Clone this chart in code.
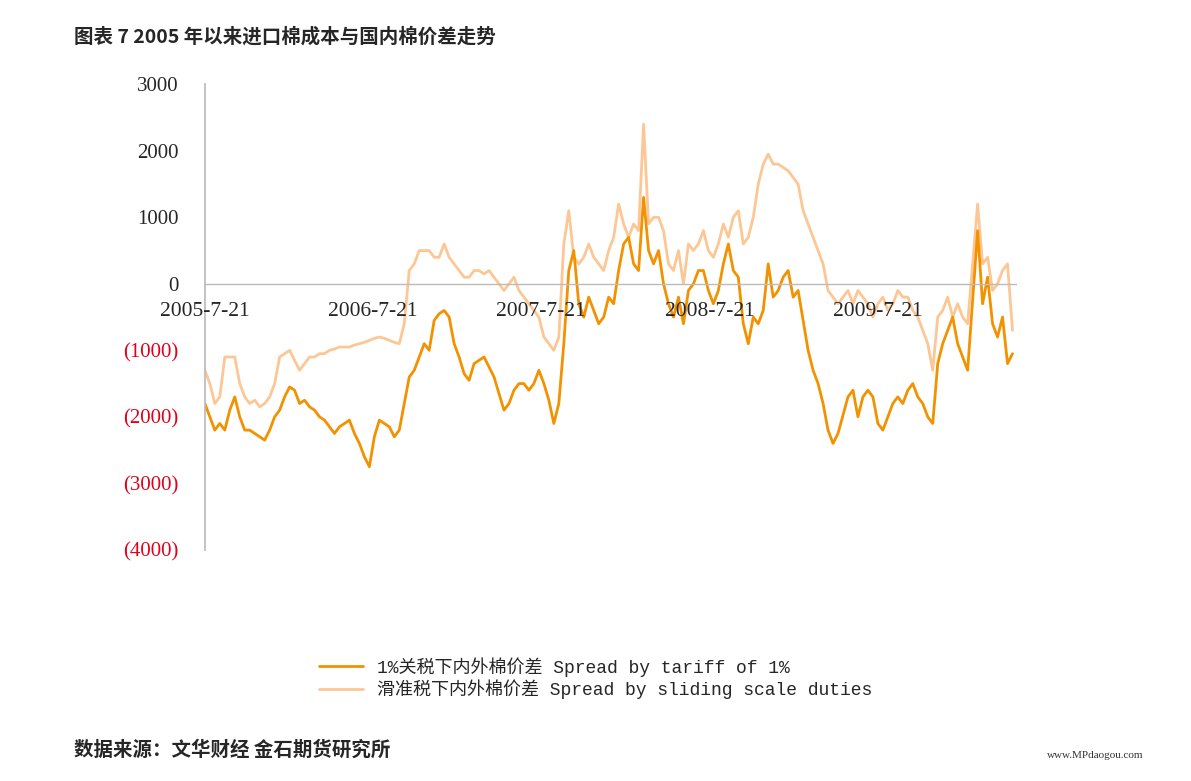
import numpy as np, pandas as pd, matplotlib
matplotlib.use("Agg")
import matplotlib.pyplot as plt, seaborn as sns

sns.set_theme(style="white")
plt.rcParams['font.family'] = ['Liberation Serif', 'Noto Sans CJK SC']

nan = np.nan
spread_1pct = [-1800,-2000,-2200,-2100,-2200,-1900,-1700,-2000,-2200,-2200,-2250,-2300,-2350,-2200,-2000,-1900,-1700,-1550,-1600,-1800,
 -1750,-1850,-1900,-2000,-2050,-2150,-2250,-2150,-2100,-2050,-2250,-2400,-2600,-2750,-2300,-2050,-2100,-2150,-2300,-2200,
 -1800,-1400,-1300,-1100,-900,-1000,-550,-450,-400,-500,-900,-1100,-1350,-1450,-1200,-1150,-1100,-1250,-1400,-1650,
 -1900,-1800,-1600,-1500,-1500,-1600,-1500,-1300,-1500,-1750,-2100,-1800,-900,200,500,-300,-500,-200,-400,-600,
 -500,-200,-300,200,600,700,300,200,1300,500,300,500,0,-300,-500,-200,-600,-100,0,200,
 200,-100,-300,-100,300,600,200,100,-600,-900,-500,-600,-400,300,-200,-100,100,200,-200,-100,
 nan,-1000,-1300,-1500,-1800,-2200,-2400,-2250,nan,-1700,-1600,-2000,-1700,-1600,-1700,-2100,-2200,-2000,-1800,-1700,
 -1800,-1600,-1500,-1700,-1800,-2000,-2100,-1200,-900,-700,-500,-900,-1100,-1300,nan,800,-300,100,-600,-800,
 -500,-1200,-1050]
spread_sliding = [-1300,-1500,-1800,-1700,-1100,-1100,-1100,-1500,-1700,-1800,-1750,-1850,-1800,-1700,-1500,-1100,-1050,-1000,-1150,-1300,
 -1200,-1100,-1100,-1050,-1050,-1000,-980,-950,-950,-950,-920,-900,-880,-850,-820,-800,-820,-850,-880,-900,
 -600,200,300,500,500,500,400,400,600,400,300,200,100,100,200,200,150,200,100,0,
 -100,0,100,-100,-200,-300,-400,-500,-800,-900,-1000,-800,600,1100,400,300,400,600,400,300,
 200,500,700,1200,900,700,900,800,2400,900,1000,1000,800,300,200,500,0,600,500,600,
 800,500,400,600,900,700,1000,1100,600,700,1000,1500,1800,1950,1800,1800,1750,1700,1600,1500,
 1100,900,700,500,300,-100,-200,-300,-200,-100,-300,-100,-200,-300,-500,-300,-200,-400,-300,-100,
 -200,-200,-400,-500,-700,-900,-1300,-500,-400,-200,-500,-300,-500,-600,nan,1200,300,400,-100,0,
 200,300,-700]
n = min(len(spread_1pct), len(spread_sliding))
spread_1pct = spread_1pct[:n]; spread_sliding = spread_sliding[:n]
dates = pd.date_range("2005-07-21", "2010-05-10", periods=n)
tick_dates = pd.to_datetime(["2005-07-21","2006-07-21","2007-07-21","2008-07-21","2009-07-21"])
tick_labels = ["2005-7-21","2006-7-21","2007-7-21","2008-7-21","2009-7-21"]
y_ticks = [3000,2000,1000,0,-1000,-2000,-3000,-4000]
lab1 = "1%关税下内外棉价差 Spread by tariff of 1%"
lab2 = "滑准税下内外棉价差 Spread by sliding scale duties"

df = pd.DataFrame({"date": dates, "a": spread_1pct, "b": spread_sliding})
fig = plt.figure(figsize=(11.91, 7.81), dpi=100)
ax = fig.add_axes([0.172, 0.296, 0.682, 0.596])
sns.lineplot(data=df, x="date", y="b", ax=ax, color="#FCC795", lw=2.0, label=lab2, legend=False)
sns.lineplot(data=df, x="date", y="a", ax=ax, color="#F39200", lw=2.0, label=lab1, legend=False)
ax.set_ylim(-4000, 3000)
ax.set_xlim(pd.Timestamp("2005-07-21"), pd.Timestamp("2010-05-20"))
ax.set_xlabel(""); ax.set_ylabel("")
for s in ["top", "right", "bottom"]:
    ax.spines[s].set_visible(False)
ax.spines["left"].set_color("#BBBBBB")
ax.axhline(0, color="#BBBBBB", lw=1)
ax.set_xticks([])
for d, t in zip(tick_dates, tick_labels):
    ax.text(d, -410, t, ha="center", va="center", fontsize=15.5, family="Liberation Serif")
ax.set_yticks(y_ticks)
ax.set_yticklabels([f"{v}" if v >= 0 else f"({-v})" for v in y_ticks], fontsize=15, family="Liberation Serif")
for lbl, v in zip(ax.get_yticklabels(), y_ticks):
    if v < 0: lbl.set_color("#E0001B")
ax.tick_params(axis="y", length=0, pad=19)

h, l = ax.get_legend_handles_labels()
fig.legend(h[::-1], l[::-1], loc="upper left", bbox_to_anchor=(0.262, 0.168), frameon=False,
           prop={"family": ["Liberation Mono", "Noto Sans CJK SC"], "size": 13},
           handlelength=2.4, labelspacing=0.15, borderaxespad=0)
fig.text(0.062, 0.953, "图表 7 2005 年以来进口棉成本与国内棉价差走势", fontsize=14,
         family=["Noto Sans CJK SC"], weight="bold", va="center")
fig.text(0.062, 0.040, "数据来源：文华财经 金石期货研究所", fontsize=14,
         family=["Noto Sans CJK SC"], weight="bold", va="center")
fig.text(0.96, 0.030, "www.MPdaogou.com", fontsize=8, ha="right", color="#333333")
fig.savefig("out.png", dpi=100)
